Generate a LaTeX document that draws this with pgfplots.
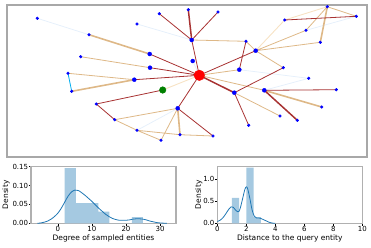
\documentclass[border=0pt]{standalone}
\usepackage{fontspec}
\setmainfont{DejaVu Sans}
\usepackage{pgfplots}
\pgfplotsset{compat=1.18}
\definecolor{edred}{HTML}{A83232}
\definecolor{edtan}{HTML}{DEB887}
\definecolor{edblue}{HTML}{E6F0FB}
\definecolor{edwheat}{HTML}{F7E2C4}
\definecolor{sbblue}{HTML}{1F77B4}
\definecolor{barblue}{HTML}{A5C9E1}
\definecolor{spine}{HTML}{B0B0B0}
\definecolor{framegray}{HTML}{A8A8A8}
\definecolor{nodegreen}{HTML}{008000}
\pgfplotsset{
  smallax/.style={
    anchor=north west, scale only axis,
    axis line style={draw=spine, line width=1.1pt},
    tick style={black, line width=0.5pt},
    tick align=outside, tick pos=left, major tick length=2.2pt,
    tick label style={font=\fontsize{7}{8}\selectfont},
    label style={font=\fontsize{7.5}{8.5}\selectfont},
    /pgf/number format/assume math mode=true,
    xlabel style={at={(axis description cs:0.5,0)}, anchor=center, yshift=-15pt},
    xticklabel style={anchor=center, yshift=-3.5pt},
    yticklabel style={anchor=east, inner sep=0pt, xshift=-0.5pt},
  }
}
\begin{document}
\begin{tikzpicture}
\useasboundingbox (0pt,0pt) rectangle (371pt,-247pt);
% ---------------- network panel ----------------
\begin{axis}[at={(7pt,-5pt)}, anchor=north west, scale only axis, width=360pt, height=152pt,
  xmin=7, xmax=367, ymin=5, ymax=157, y dir=reverse, ticks=none,
  axis line style={draw=framegray, line width=1.2pt}, unbounded coords=jump]
% faint blue edges
\addplot[edblue, line width=0.8pt] coordinates {
(37.3,18.3) (89,34.7) (nan,nan)
(137,24) (191.7,40) (nan,nan)
(239.3,69.7) (308.7,78.3) (nan,nan)
(264.3,90.3) (308.7,78.3) (nan,nan)
(306,30.3) (356.3,16.3) (nan,nan)
(177.7,108.3) (137,130.3) (nan,nan)
(192.7,61) (199.3,75.3)
};
% cyan edge
\addplot[cyan, line width=0.8pt] coordinates {(68,73.3) (71.7,91.3)};
% light wheat edges
\addplot[edwheat, line width=0.9pt] coordinates {
(255.7,50.7) (284.7,20) (nan,nan)
(284.7,20) (327.3,6.7) (nan,nan)
(162.7,90) (199.3,75.3)
};
% tan thin edges
\addplot[edtan, line width=0.8pt] coordinates {
(80.7,56.7) (150,67.7) (nan,nan)
(68,73.3) (134.3,79.7) (nan,nan)
(191.7,40) (246,41.3) (nan,nan)
(246,41.3) (255.7,50.7) (nan,nan)
(255.7,50.7) (306,30.3) (nan,nan)
(255.7,50.7) (320.3,42.3) (nan,nan)
(255.7,50.7) (283.3,67.7) (nan,nan)
(239.3,69.7) (199.3,75.3) (nan,nan)
(264.3,90.3) (199.3,75.3) (nan,nan)
(234.3,92.7) (280,116) (nan,nan)
(327.3,6.7) (356.3,16.3) (nan,nan)
(327.3,6.7) (306,30.3) (nan,nan)
(177.7,108.3) (114.7,119.7) (nan,nan)
(177.7,108.3) (161,140.3) (nan,nan)
(114.7,119.7) (137,130.3) (nan,nan)
(137,130.3) (161,140.3) (nan,nan)
(137,130.3) (180,134.7) (nan,nan)
(180,134.7) (213,136)
};
% tan thick edges
\addplot[edtan, line width=1.6pt] coordinates {
(89,34.7) (149.7,54) (nan,nan)
(71.7,91.3) (134.3,79.7) (nan,nan)
(264.3,90.3) (321.7,107) (nan,nan)
(327.3,6.7) (320.3,42.3) (nan,nan)
(177.7,108.3) (180,134.7)
};
% dark red thin edges
\addplot[edred, line width=0.8pt] coordinates {
(149.7,54) (199.3,75.3) (nan,nan)
(150,67.7) (199.3,75.3) (nan,nan)
(134.3,79.7) (199.3,75.3) (nan,nan)
(159.3,13.7) (191.7,40) (nan,nan)
(218,12) (191.7,40) (nan,nan)
(191.7,40) (199.3,75.3) (nan,nan)
(246,41.3) (239.3,69.7) (nan,nan)
(255.7,50.7) (199.3,75.3) (nan,nan)
(283.3,67.7) (234.3,92.7) (nan,nan)
(264.3,90.3) (336.3,89.7) (nan,nan)
(234.3,92.7) (248.7,125.3) (nan,nan)
(284.7,20) (356.3,16.3) (nan,nan)
(162.7,90) (96.3,104) (nan,nan)
(96.3,104) (114.7,119.7) (nan,nan)
(177.7,108.3) (199.3,75.3) (nan,nan)
(177.7,108.3) (213,136)
};
% dark red thick edges
\addplot[edred, line width=1.5pt] coordinates {
(188.3,9.7) (191.7,40) (nan,nan)
(234.3,92.7) (199.3,75.3) (nan,nan)
(264.3,90.3) (297.3,120.3)
};
% small blue nodes
\addplot[only marks, mark=*, mark size=1.4pt, mark options={draw=blue, fill=blue}] coordinates {
(37.3,18.3) (89,34.7) (80.7,56.7) (68,73.3) (71.7,91.3) (159.3,13.7) (137,24)
(188.3,9.7) (218,12) (246,41.3) (283.3,67.7) (308.7,78.3) (336.3,89.7)
(321.7,107) (280,116) (297.3,120.3) (248.7,125.3) (284.7,20) (327.3,6.7)
(356.3,16.3) (306,30.3) (320.3,42.3) (96.3,104) (114.7,119.7) (137,130.3)
(161,140.3) (180,134.7) (213,136)
};
% larger blue nodes
\addplot[only marks, mark=*, mark size=2pt, mark options={draw=blue, fill=blue}] coordinates {
(149.7,54) (150,67.7) (134.3,79.7) (191.7,40) (192.7,61) (255.7,50.7)
(239.3,69.7) (234.3,92.7) (264.3,90.3) (177.7,108.3)
};
% query entity and green node
\addplot[only marks, mark=*, mark size=3.3pt, mark options={draw=nodegreen, fill=nodegreen}] coordinates {(162.7,90)};
\addplot[only marks, mark=*, mark size=5.3pt, mark options={draw=red, fill=red}] coordinates {(199.3,75.3)};
\end{axis}
% ---------------- degree histogram ----------------
\begin{axis}[smallax, at={(31pt,-166.3pt)}, width=145pt, height=57pt,
  xmin=-7.9, xmax=34.7, ymin=0, ymax=0.151,
  xtick={0,10,20,30}, ytick={0,0.05,0.1,0.15},
  yticklabels={0.00,0.05,0.10,0.15},
  xlabel={Degree of sampled entities}, ylabel={Density},
  ylabel style={at={(axis description cs:-0.172,0.5)}, anchor=center}]
\addplot[ybar interval, fill=barblue, draw=none] coordinates {
(2,0.146) (5.2857,0.0535) (8.5714,0.0535) (11.857,0.031) (15.143,0) (18.429,0) (21.714,0.0167) (25,0.0167)
};
\addplot[sbblue, line width=0.8pt, smooth] coordinates {
(-6,0.000) (-5,0.001) (-4,0.003) (-3,0.006) (-2,0.011) (-1,0.018) (0,0.027) (1,0.040)
(2,0.056) (3,0.072) (4,0.083) (5,0.088) (6,0.087) (7,0.081) (8,0.074) (9,0.066)
(10,0.058) (11,0.049) (12,0.040) (13,0.032) (14,0.024) (15,0.018) (16,0.013) (17,0.010)
(18,0.008) (19,0.008) (20,0.008) (21,0.009) (22,0.011) (23,0.012) (24,0.012) (25,0.011)
(26,0.009) (27,0.006) (28,0.004) (29,0.002) (30,0.001) (31,0.0004) (32,0)
};
\end{axis}
% ---------------- distance histogram ----------------
\begin{axis}[smallax, at={(217.3pt,-166.3pt)}, width=145pt, height=57pt,
  xmin=0, xmax=10, ymin=0, ymax=1.28,
  xtick={0,2,4,6,8,10}, ytick={0,0.5,1},
  yticklabels={0.0,0.5,1.0},
  xlabel={Distance to the query entity}, ylabel={Density},
  ylabel style={at={(axis description cs:-0.128,0.5)}, anchor=center}]
\addplot[ybar interval, fill=barblue, draw=none] coordinates {
(1,0.57) (1.5,0) (2,1.25) (2.5,0.14) (3,0.14)
};
\addplot[sbblue, line width=0.8pt, smooth] coordinates {
(0,0.04) (0.2,0.07) (0.4,0.13) (0.6,0.22) (0.8,0.32) (0.95,0.37) (1.1,0.36) (1.25,0.30)
(1.4,0.26) (1.5,0.27) (1.6,0.36) (1.75,0.56) (1.9,0.76) (2.0,0.82) (2.1,0.77) (2.25,0.55)
(2.4,0.30) (2.55,0.16) (2.7,0.12) (2.85,0.12) (3.0,0.11) (3.2,0.08) (3.4,0.05) (3.6,0.02)
(3.8,0.005) (4.0,0)
};
\end{axis}
\end{tikzpicture}
\end{document}
